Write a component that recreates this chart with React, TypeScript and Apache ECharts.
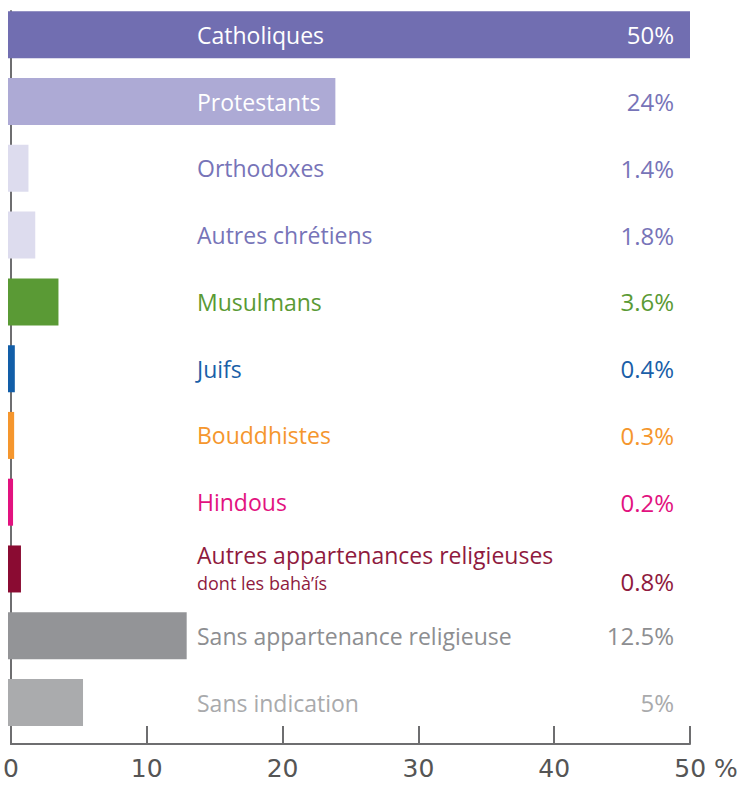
import React, { useEffect, useRef } from "react";
import * as echarts from "echarts";

// ---- data ----
const categories = [
  "Catholiques",
  "Protestants",
  "Orthodoxes",
  "Autres chrétiens",
  "Musulmans",
  "Juifs",
  "Bouddhistes",
  "Hindous",
  "Autres appartenances religieuses",
  "Sans appartenance religieuse",
  "Sans indication",
];
const subLabels = ["", "", "", "", "", "", "", "", "dont les bahà’ís", "", ""];
// bar lengths as drawn in the picture (percent)
const barValues = [50, 24, 1.5, 2.0, 3.7, 0.5, 0.45, 0.37, 0.95, 13.1, 5.5];
// printed percentages
const valueLabels = ["50%", "24%", "1.4%", "1.8%", "3.6%", "0.4%", "0.3%", "0.2%", "0.8%", "12.5%", "5%"];
const xTicks = [0, 10, 20, 30, 40, 50];

// ---- styles ----
const barColors = [
  "#716eb1", "#adaad5", "#dddcee", "#dddcee", "#5a9a35", "#125ea8",
  "#f5962d", "#e2127f", "#8a0b32", "#939497", "#aaabad",
];
const nameColors = [
  "#ffffff", "#ffffff", "#7774b8", "#7774b8", "#5a9a35", "#1a5fa8",
  "#f5962d", "#e2127f", "#8f1a3e", "#8d8e91", "#a9aaac",
];
const pctColors = [
  "#ffffff", "#7774b8", "#7774b8", "#7774b8", "#5a9a35", "#1a5fa8",
  "#f5962d", "#e2127f", "#8f1a3e", "#8d8e91", "#a9aaac",
];
const FONT = "'Open Sans', 'Liberation Sans', sans-serif";
const AXIS = "#6e6e70";

export default function App() {
  const ref = useRef<HTMLDivElement>(null);

  useEffect(() => {
    if (!ref.current) return;
    const chart = echarts.init(ref.current, undefined, { renderer: "svg" });

    const nameRich: Record<string, any> = {};
    const pctRich: Record<string, any> = {};
    categories.forEach((_, i) => {
      nameRich["n" + i] = { color: nameColors[i], fontSize: 23, fontFamily: FONT, lineHeight: 28 };
      nameRich["s" + i] = { color: nameColors[i], fontSize: 18, fontFamily: FONT, lineHeight: 28 };
      pctRich["p" + i] = { color: pctColors[i], fontSize: 24, fontFamily: FONT };
    });

    const pctData = valueLabels.map((v, i) =>
      subLabels[i] ? { value: v, textStyle: { padding: [26, 0, 0, 0] } } : v
    );

    chart.setOption({
      animation: false,
      backgroundColor: "#ffffff",
      grid: [
        { left: 8, right: 51, top: 1.4, bottom: 72.1 },
        { left: 8, right: 51, top: 11, bottom: 64 },
      ],
      xAxis: [
        { gridIndex: 0, type: "value", min: 0, max: 50, show: false },
        {
          gridIndex: 1,
          type: "value",
          min: 0,
          max: 50,
          interval: 10,
          axisLine: { show: true, onZero: false, lineStyle: { color: AXIS, width: 2 } },
          axisTick: { show: true, inside: true, length: 18, lineStyle: { color: AXIS, width: 2 } },
          splitLine: { show: false },
          axisLabel: {
            fontFamily: "'DejaVu Sans', sans-serif",
            fontSize: 25,
            color: "#555555",
            margin: 12,
            formatter: (v: number) =>
              v === xTicks[xTicks.length - 1] ? "{pad|}" + v + " %" : String(v),
            rich: { pad: { width: 32 } },
          },
        },
      ],
      yAxis: [
        {
          gridIndex: 0,
          type: "category",
          inverse: true,
          position: "left",
          data: categories,
          z: 10,
          axisLine: { show: false },
          axisTick: { show: false },
          splitLine: { show: false },
          axisLabel: {
            inside: true,
            margin: 189,
            interval: 0,
            align: "left",
            formatter: (value: string, index: number) =>
              subLabels[index]
                ? `{n${index}|${value}}\n{s${index}|${subLabels[index]}}`
                : `{n${index}|${value}}`,
            rich: nameRich,
          },
        },
        {
          gridIndex: 0,
          type: "category",
          inverse: true,
          position: "right",
          data: pctData,
          z: 10,
          axisLine: { show: false },
          axisTick: { show: false },
          splitLine: { show: false },
          axisLabel: {
            inside: true,
            margin: 16,
            interval: 0,
            fontFamily: FONT,
            fontSize: 24,
            formatter: (value: string, index: number) => `{p${index}|${value}}`,
            rich: pctRich,
          },
        },
        {
          gridIndex: 1,
          type: "value",
          min: 0,
          max: 1,
          axisLine: { show: true, onZero: false, lineStyle: { color: AXIS, width: 2 } },
          axisTick: { show: false },
          axisLabel: { show: false },
          splitLine: { show: false },
        },
      ],
      series: [
        {
          type: "bar",
          xAxisIndex: 0,
          yAxisIndex: 0,
          barWidth: 47,
          data: barValues.map((v, i) => ({ value: v, itemStyle: { color: barColors[i] } })),
          z: 1,
        },
      ],
    });

    return () => chart.dispose();
  }, []);

  return (
    <div
      ref={ref}
      style={{ position: "absolute", left: 0, top: 0, width: 741, height: 808, background: "#fff" }}
    />
  );
}
